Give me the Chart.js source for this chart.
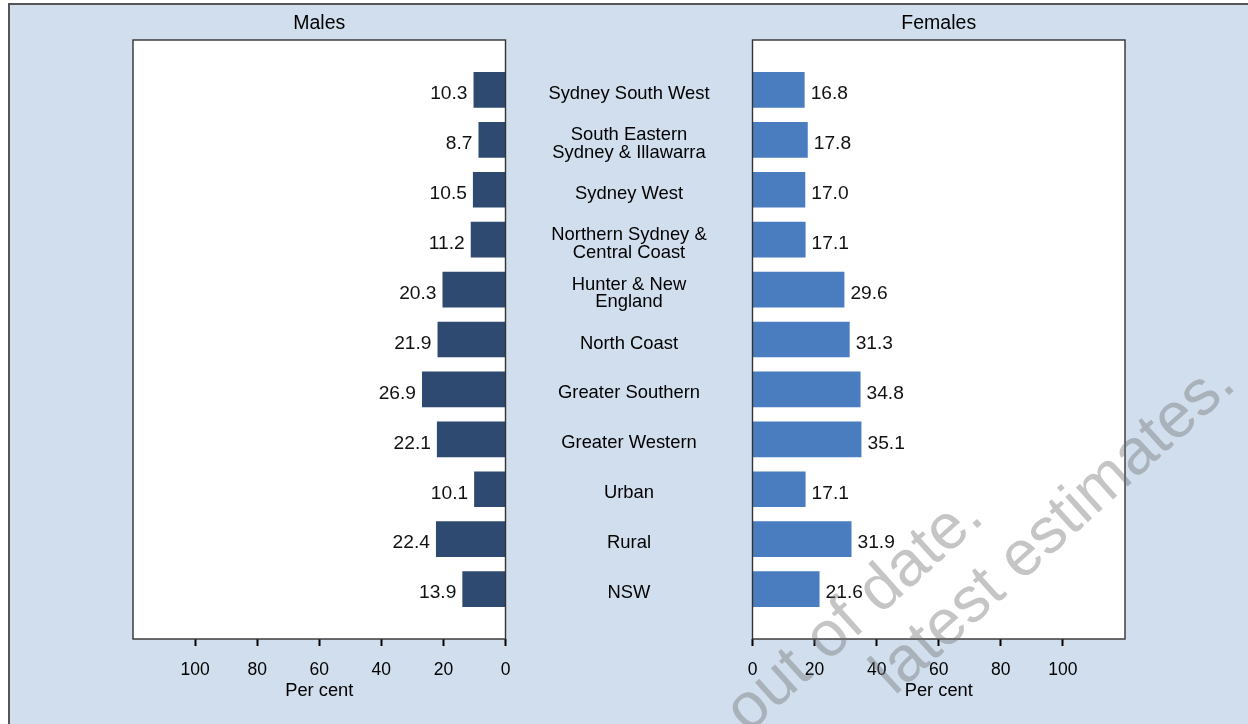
<!DOCTYPE html>
<html>
<head>
<meta charset="utf-8">
<title>Males and Females by area</title>
<script src="https://cdn.jsdelivr.net/npm/chart.js@4.4.1/dist/chart.umd.min.js"></script>
<style>
  html, body { margin: 0; padding: 0; background: #fff; }
  #wrap { position: relative; width: 1248px; height: 724px; overflow: hidden; }
  #frame {
    position: absolute; left: 8px; top: 3px; right: 0; bottom: 0;
    background: #d0deed;
    border-left: 2px solid #555; border-top: 2px solid #555;
  }
  canvas { position: absolute; left: 0; top: 0; }
</style>
</head>
<body>
<div id="wrap">
  <div id="frame"></div>
  <canvas id="males" width="1248" height="724"></canvas>
  <canvas id="females" width="1248" height="724"></canvas>
</div>
<script>
const regions = [
  'Sydney South West',
  ['South Eastern', 'Sydney & Illawarra'],
  'Sydney West',
  ['Northern Sydney &', 'Central Coast'],
  ['Hunter & New', 'England'],
  'North Coast',
  'Greater Southern',
  'Greater Western',
  'Urban',
  'Rural',
  'NSW'
];
const males   = [10.3, 8.7, 10.5, 11.2, 20.3, 21.9, 26.9, 22.1, 10.1, 22.4, 13.9];
const females = [16.8, 17.8, 17.0, 17.1, 29.6, 31.3, 34.8, 35.1, 17.1, 31.9, 21.6];
const axisTicks = [0, 20, 40, 60, 80, 100];
const axisMax = 120;

const FONT = '"Liberation Sans", Arial, sans-serif';

// panel geometry (pixels)
const maleLeft = 133, gapLeft = 505.5, gapRight = 752.5, femaleRight = 1125;
const W = 1248, H = 724, axisHeight = 85;

// white plot panel with a thin dark frame
const panel = {
  id: 'panel',
  beforeDraw(chart) {
    const { ctx, chartArea: a } = chart;
    ctx.save();
    ctx.fillStyle = '#fff';
    ctx.fillRect(a.left, a.top, a.width, a.height);
    ctx.restore();
  },
  afterDraw(chart) {
    const { ctx, chartArea: a } = chart;
    ctx.save();
    ctx.strokeStyle = '#333';
    ctx.lineWidth = 1.4;
    ctx.strokeRect(a.left, a.top, a.width, a.height);
    ctx.restore();
  }
};

// numbers next to the bar ends
const valueLabels = {
  id: 'valueLabels',
  afterDatasetsDraw(chart, args, opts) {
    const { ctx } = chart;
    const meta = chart.getDatasetMeta(0);
    const left = opts.side === 'left';
    ctx.save();
    ctx.font = '19.2px ' + FONT;
    ctx.fillStyle = '#111';
    ctx.textBaseline = 'middle';
    ctx.textAlign = left ? 'right' : 'left';
    meta.data.forEach((bar, i) => {
      const v = chart.data.datasets[0].data[i].x;
      ctx.fillText(v.toFixed(1), left ? bar.x - 6 : bar.x + 6, bar.y + 4);
    });
    ctx.restore();
  }
};

// diagonal notice across the lower right
const stampLines = [
  { text: 'This indicator is out of date.', x: 986, y: 520 },
  { text: 'latest estimates.', x: 1238, y: 387 }
];
const stamp = {
  id: 'stamp',
  afterDraw(chart) {
    const { ctx } = chart;
    ctx.save();
    ctx.font = '64px ' + FONT;
    ctx.fillStyle = 'rgba(110,110,110,0.40)';
    ctx.textAlign = 'right';
    ctx.textBaseline = 'alphabetic';
    stampLines.forEach(l => {
      ctx.save();
      ctx.translate(l.x, l.y);
      ctx.rotate(-42 * Math.PI / 180);
      ctx.fillText(l.text, 0, 0);
      ctx.restore();
    });
    ctx.restore();
  }
};

// keep the axes from pushing the plot area around
function noPadding(s) {
  s.paddingTop = 0;
  s.paddingBottom = 0;
  s.paddingLeft = 0;
  s.paddingRight = 0;
}

function xAxis(reverse) {
  return {
    type: 'linear',
    min: 0,
    max: axisMax,
    reverse: reverse,
    afterBuildTicks: s => { s.ticks = axisTicks.map(v => ({ value: v })); },
    afterFit: s => { s.height = axisHeight; noPadding(s); },
    border: { display: false },
    grid: { drawOnChartArea: false, drawTicks: true, tickLength: 7, tickWidth: 2, tickColor: '#000' },
    ticks: { color: '#000', padding: 14, font: { family: FONT, size: 17.5 } },
    title: {
      display: true, text: 'Per cent', color: '#000',
      font: { family: FONT, size: 18.3 },
      padding: { top: 0, bottom: 22 }
    }
  };
}

// rows 1..n, one per region, top to bottom
function rowAxis() {
  return {
    type: 'linear',
    min: 0,
    max: regions.length + 1,
    reverse: true,
    offset: false
  };
}

function title(text) {
  return {
    display: true, text: text, color: '#000', fullSize: false,
    font: { family: FONT, size: 19.5, weight: 'normal', lineHeight: 1.2 },
    padding: { top: 12, bottom: 4.6 }
  };
}

const common = {
  indexAxis: 'y',
  responsive: false,
  animation: false,
  events: [],
  barPercentage: 0.715,
  categoryPercentage: 1
};

// Males: bars grow leftwards from 0
new Chart(document.getElementById('males'), {
  type: 'bar',
  data: {
    datasets: [{
      data: males.map((v, i) => ({ x: v, y: i + 1 })),
      backgroundColor: '#2e4a70',
      borderWidth: 0
    }]
  },
  options: Object.assign({}, common, {
    layout: { padding: { left: maleLeft, right: W - gapLeft, top: 0, bottom: 0 } },
    scales: {
      x: xAxis(true),
      y: Object.assign(rowAxis(), { display: false })
    },
    plugins: {
      legend: { display: false },
      tooltip: { enabled: false },
      title: title('Males'),
      valueLabels: { side: 'left' }
    }
  }),
  plugins: [panel, valueLabels]
});

// region names sit in the gap, centred, as the Females row labels
const labelFont = { family: FONT, size: 18.4, lineHeight: 0.96 };
const probe = document.createElement('canvas').getContext('2d');
probe.font = labelFont.size + 'px ' + FONT;
const widest = Math.max(...regions.flat().map(s => probe.measureText(s).width));
const gapWidth = gapRight - gapLeft;

new Chart(document.getElementById('females'), {
  type: 'bar',
  data: {
    datasets: [{
      data: females.map((v, i) => ({ x: v, y: i + 1 })),
      backgroundColor: '#4a7dbf',
      borderWidth: 0
    }]
  },
  options: Object.assign({}, common, {
    layout: { padding: { left: gapLeft, right: W - femaleRight, top: 0, bottom: 0 } },
    scales: {
      x: xAxis(false),
      y: Object.assign(rowAxis(), {
        position: 'left',
        afterBuildTicks: s => { s.ticks = regions.map((r, i) => ({ value: i + 1 })); },
        afterFit: s => { s.width = gapWidth; noPadding(s); },
        border: { display: false },
        grid: { display: false, drawTicks: false },
        ticks: {
          autoSkip: false,
          color: '#000',
          font: labelFont,
          crossAlign: 'center',
          padding: gapWidth / 2 - widest / 2,
          labelOffset: 4,
          callback: v => regions[v - 1] || ''
        }
      })
    },
    plugins: {
      legend: { display: false },
      tooltip: { enabled: false },
      title: title('Females'),
      valueLabels: { side: 'right' }
    }
  }),
  plugins: [panel, valueLabels, stamp]
});
</script>
</body>
</html>
